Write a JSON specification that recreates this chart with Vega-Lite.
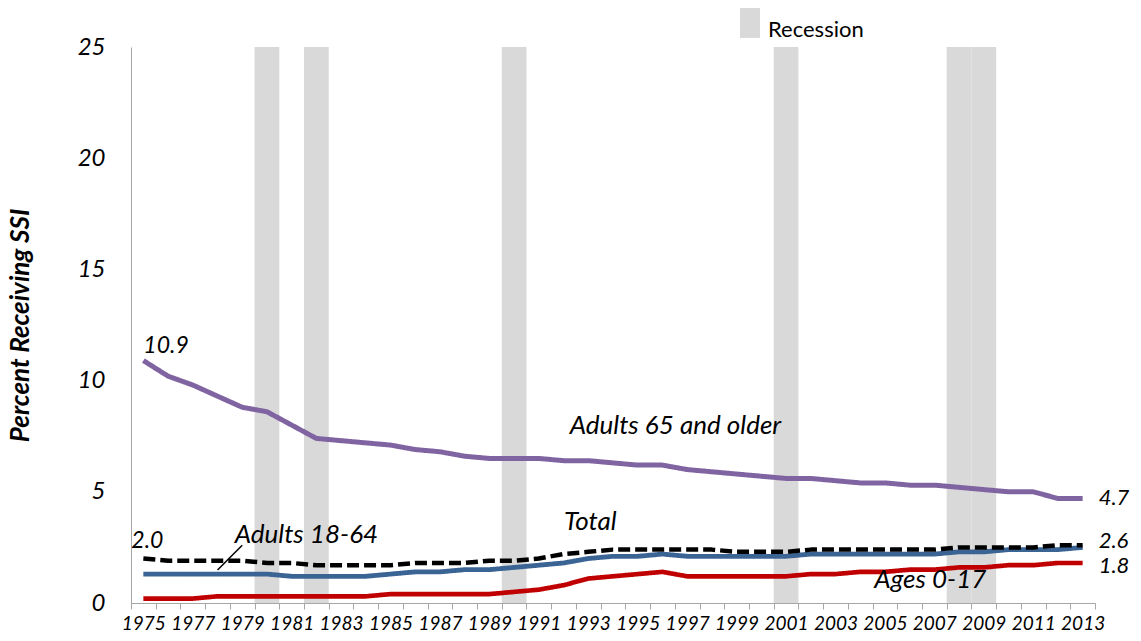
{
  "$schema": "https://vega.github.io/schema/vega-lite/v6.json",
  "width": 964,
  "height": 556,
  "autosize": {"type": "none"},
  "padding": {"left": 131, "top": 47, "right": 46, "bottom": 38},
  "background": "white",
  "config": {
    "view": {"stroke": null},
    "font": "Lato",
    "axis": {"labelFont": "Lato", "titleFont": "Lato", "labelFontStyle": "italic", "labelColor": "#000", "domainColor": "#a6a6a6", "tickColor": "#a6a6a6"}
  },
  "resolve": {"scale": {"color": "independent"}},
  "datasets": {
    "series": [
      {"year": 1975, "series": "Adults 65 and older", "value": 10.9},
      {"year": 1976, "series": "Adults 65 and older", "value": 10.2},
      {"year": 1977, "series": "Adults 65 and older", "value": 9.8},
      {"year": 1978, "series": "Adults 65 and older", "value": 9.3},
      {"year": 1979, "series": "Adults 65 and older", "value": 8.8},
      {"year": 1980, "series": "Adults 65 and older", "value": 8.6},
      {"year": 1981, "series": "Adults 65 and older", "value": 8.0},
      {"year": 1982, "series": "Adults 65 and older", "value": 7.4},
      {"year": 1983, "series": "Adults 65 and older", "value": 7.3},
      {"year": 1984, "series": "Adults 65 and older", "value": 7.2},
      {"year": 1985, "series": "Adults 65 and older", "value": 7.1},
      {"year": 1986, "series": "Adults 65 and older", "value": 6.9},
      {"year": 1987, "series": "Adults 65 and older", "value": 6.8},
      {"year": 1988, "series": "Adults 65 and older", "value": 6.6},
      {"year": 1989, "series": "Adults 65 and older", "value": 6.5},
      {"year": 1990, "series": "Adults 65 and older", "value": 6.5},
      {"year": 1991, "series": "Adults 65 and older", "value": 6.5},
      {"year": 1992, "series": "Adults 65 and older", "value": 6.4},
      {"year": 1993, "series": "Adults 65 and older", "value": 6.4},
      {"year": 1994, "series": "Adults 65 and older", "value": 6.3},
      {"year": 1995, "series": "Adults 65 and older", "value": 6.2},
      {"year": 1996, "series": "Adults 65 and older", "value": 6.2},
      {"year": 1997, "series": "Adults 65 and older", "value": 6.0},
      {"year": 1998, "series": "Adults 65 and older", "value": 5.9},
      {"year": 1999, "series": "Adults 65 and older", "value": 5.8},
      {"year": 2000, "series": "Adults 65 and older", "value": 5.7},
      {"year": 2001, "series": "Adults 65 and older", "value": 5.6},
      {"year": 2002, "series": "Adults 65 and older", "value": 5.6},
      {"year": 2003, "series": "Adults 65 and older", "value": 5.5},
      {"year": 2004, "series": "Adults 65 and older", "value": 5.4},
      {"year": 2005, "series": "Adults 65 and older", "value": 5.4},
      {"year": 2006, "series": "Adults 65 and older", "value": 5.3},
      {"year": 2007, "series": "Adults 65 and older", "value": 5.3},
      {"year": 2008, "series": "Adults 65 and older", "value": 5.2},
      {"year": 2009, "series": "Adults 65 and older", "value": 5.1},
      {"year": 2010, "series": "Adults 65 and older", "value": 5.0},
      {"year": 2011, "series": "Adults 65 and older", "value": 5.0},
      {"year": 2012, "series": "Adults 65 and older", "value": 4.7},
      {"year": 2013, "series": "Adults 65 and older", "value": 4.7},

      {"year": 1975, "series": "Adults 18-64", "value": 1.3},
      {"year": 1976, "series": "Adults 18-64", "value": 1.3},
      {"year": 1977, "series": "Adults 18-64", "value": 1.3},
      {"year": 1978, "series": "Adults 18-64", "value": 1.3},
      {"year": 1979, "series": "Adults 18-64", "value": 1.3},
      {"year": 1980, "series": "Adults 18-64", "value": 1.3},
      {"year": 1981, "series": "Adults 18-64", "value": 1.2},
      {"year": 1982, "series": "Adults 18-64", "value": 1.2},
      {"year": 1983, "series": "Adults 18-64", "value": 1.2},
      {"year": 1984, "series": "Adults 18-64", "value": 1.2},
      {"year": 1985, "series": "Adults 18-64", "value": 1.3},
      {"year": 1986, "series": "Adults 18-64", "value": 1.4},
      {"year": 1987, "series": "Adults 18-64", "value": 1.4},
      {"year": 1988, "series": "Adults 18-64", "value": 1.5},
      {"year": 1989, "series": "Adults 18-64", "value": 1.5},
      {"year": 1990, "series": "Adults 18-64", "value": 1.6},
      {"year": 1991, "series": "Adults 18-64", "value": 1.7},
      {"year": 1992, "series": "Adults 18-64", "value": 1.8},
      {"year": 1993, "series": "Adults 18-64", "value": 2.0},
      {"year": 1994, "series": "Adults 18-64", "value": 2.1},
      {"year": 1995, "series": "Adults 18-64", "value": 2.1},
      {"year": 1996, "series": "Adults 18-64", "value": 2.2},
      {"year": 1997, "series": "Adults 18-64", "value": 2.1},
      {"year": 1998, "series": "Adults 18-64", "value": 2.1},
      {"year": 1999, "series": "Adults 18-64", "value": 2.1},
      {"year": 2000, "series": "Adults 18-64", "value": 2.1},
      {"year": 2001, "series": "Adults 18-64", "value": 2.1},
      {"year": 2002, "series": "Adults 18-64", "value": 2.2},
      {"year": 2003, "series": "Adults 18-64", "value": 2.2},
      {"year": 2004, "series": "Adults 18-64", "value": 2.2},
      {"year": 2005, "series": "Adults 18-64", "value": 2.2},
      {"year": 2006, "series": "Adults 18-64", "value": 2.2},
      {"year": 2007, "series": "Adults 18-64", "value": 2.2},
      {"year": 2008, "series": "Adults 18-64", "value": 2.3},
      {"year": 2009, "series": "Adults 18-64", "value": 2.3},
      {"year": 2010, "series": "Adults 18-64", "value": 2.4},
      {"year": 2011, "series": "Adults 18-64", "value": 2.4},
      {"year": 2012, "series": "Adults 18-64", "value": 2.4},
      {"year": 2013, "series": "Adults 18-64", "value": 2.5},

      {"year": 1975, "series": "Ages 0-17", "value": 0.2},
      {"year": 1976, "series": "Ages 0-17", "value": 0.2},
      {"year": 1977, "series": "Ages 0-17", "value": 0.2},
      {"year": 1978, "series": "Ages 0-17", "value": 0.3},
      {"year": 1979, "series": "Ages 0-17", "value": 0.3},
      {"year": 1980, "series": "Ages 0-17", "value": 0.3},
      {"year": 1981, "series": "Ages 0-17", "value": 0.3},
      {"year": 1982, "series": "Ages 0-17", "value": 0.3},
      {"year": 1983, "series": "Ages 0-17", "value": 0.3},
      {"year": 1984, "series": "Ages 0-17", "value": 0.3},
      {"year": 1985, "series": "Ages 0-17", "value": 0.4},
      {"year": 1986, "series": "Ages 0-17", "value": 0.4},
      {"year": 1987, "series": "Ages 0-17", "value": 0.4},
      {"year": 1988, "series": "Ages 0-17", "value": 0.4},
      {"year": 1989, "series": "Ages 0-17", "value": 0.4},
      {"year": 1990, "series": "Ages 0-17", "value": 0.5},
      {"year": 1991, "series": "Ages 0-17", "value": 0.6},
      {"year": 1992, "series": "Ages 0-17", "value": 0.8},
      {"year": 1993, "series": "Ages 0-17", "value": 1.1},
      {"year": 1994, "series": "Ages 0-17", "value": 1.2},
      {"year": 1995, "series": "Ages 0-17", "value": 1.3},
      {"year": 1996, "series": "Ages 0-17", "value": 1.4},
      {"year": 1997, "series": "Ages 0-17", "value": 1.2},
      {"year": 1998, "series": "Ages 0-17", "value": 1.2},
      {"year": 1999, "series": "Ages 0-17", "value": 1.2},
      {"year": 2000, "series": "Ages 0-17", "value": 1.2},
      {"year": 2001, "series": "Ages 0-17", "value": 1.2},
      {"year": 2002, "series": "Ages 0-17", "value": 1.3},
      {"year": 2003, "series": "Ages 0-17", "value": 1.3},
      {"year": 2004, "series": "Ages 0-17", "value": 1.4},
      {"year": 2005, "series": "Ages 0-17", "value": 1.4},
      {"year": 2006, "series": "Ages 0-17", "value": 1.5},
      {"year": 2007, "series": "Ages 0-17", "value": 1.5},
      {"year": 2008, "series": "Ages 0-17", "value": 1.6},
      {"year": 2009, "series": "Ages 0-17", "value": 1.6},
      {"year": 2010, "series": "Ages 0-17", "value": 1.7},
      {"year": 2011, "series": "Ages 0-17", "value": 1.7},
      {"year": 2012, "series": "Ages 0-17", "value": 1.8},
      {"year": 2013, "series": "Ages 0-17", "value": 1.8},

      {"year": 1975, "series": "Total", "value": 2.0},
      {"year": 1976, "series": "Total", "value": 1.9},
      {"year": 1977, "series": "Total", "value": 1.9},
      {"year": 1978, "series": "Total", "value": 1.9},
      {"year": 1979, "series": "Total", "value": 1.9},
      {"year": 1980, "series": "Total", "value": 1.8},
      {"year": 1981, "series": "Total", "value": 1.8},
      {"year": 1982, "series": "Total", "value": 1.7},
      {"year": 1983, "series": "Total", "value": 1.7},
      {"year": 1984, "series": "Total", "value": 1.7},
      {"year": 1985, "series": "Total", "value": 1.7},
      {"year": 1986, "series": "Total", "value": 1.8},
      {"year": 1987, "series": "Total", "value": 1.8},
      {"year": 1988, "series": "Total", "value": 1.8},
      {"year": 1989, "series": "Total", "value": 1.9},
      {"year": 1990, "series": "Total", "value": 1.9},
      {"year": 1991, "series": "Total", "value": 2.0},
      {"year": 1992, "series": "Total", "value": 2.2},
      {"year": 1993, "series": "Total", "value": 2.3},
      {"year": 1994, "series": "Total", "value": 2.4},
      {"year": 1995, "series": "Total", "value": 2.4},
      {"year": 1996, "series": "Total", "value": 2.4},
      {"year": 1997, "series": "Total", "value": 2.4},
      {"year": 1998, "series": "Total", "value": 2.4},
      {"year": 1999, "series": "Total", "value": 2.3},
      {"year": 2000, "series": "Total", "value": 2.3},
      {"year": 2001, "series": "Total", "value": 2.3},
      {"year": 2002, "series": "Total", "value": 2.4},
      {"year": 2003, "series": "Total", "value": 2.4},
      {"year": 2004, "series": "Total", "value": 2.4},
      {"year": 2005, "series": "Total", "value": 2.4},
      {"year": 2006, "series": "Total", "value": 2.4},
      {"year": 2007, "series": "Total", "value": 2.4},
      {"year": 2008, "series": "Total", "value": 2.5},
      {"year": 2009, "series": "Total", "value": 2.5},
      {"year": 2010, "series": "Total", "value": 2.5},
      {"year": 2011, "series": "Total", "value": 2.5},
      {"year": 2012, "series": "Total", "value": 2.6},
      {"year": 2013, "series": "Total", "value": 2.6}
    ],
    "recession": [
      {"year": 1980, "label": "Recession"},
      {"year": 1982, "label": "Recession"},
      {"year": 1990, "label": "Recession"},
      {"year": 2001, "label": "Recession"},
      {"year": 2008, "label": "Recession"},
      {"year": 2009, "label": "Recession"}
    ]
  },
  "encoding": {
    "x": {
      "field": "year",
      "type": "ordinal",
      "scale": {"domain": [1975,1976,1977,1978,1979,1980,1981,1982,1983,1984,1985,1986,1987,1988,1989,1990,1991,1992,1993,1994,1995,1996,1997,1998,1999,2000,2001,2002,2003,2004,2005,2006,2007,2008,2009,2010,2011,2012,2013], "paddingInner": 0, "paddingOuter": 0},
      "axis": {"title": null, "labelAngle": 0, "tickBand": "extent", "tickSize": 6, "labelFontSize": 19, "labelPadding": 5, "labelOverlap": false, "labelExpr": "(datum.value - 1975) % 2 == 0 ? datum.label : ''"}
    }
  },
  "layer": [
    {
      "data": {"name": "recession"},
      "mark": {"type": "bar", "opacity": 1},
      "encoding": {
        "y": {"datum": 25, "type": "quantitative", "scale": {"domain": [0, 25], "nice": false}},
        "y2": {"datum": 0},
        "color": {
          "field": "label", "type": "nominal",
          "scale": {"domain": ["Recession"], "range": ["#d9d9d9"]},
          "legend": {"orient": "none", "legendX": 604, "legendY": -32, "title": null, "padding": 0, "symbolType": "M-0.667,-1.47H0.667V0.53H-0.667Z", "symbolSize": 900, "symbolStrokeWidth": 0, "symbolOpacity": 1, "labelFont": "Lato", "labelFontSize": 22, "labelColor": "#000", "labelOffset": 3}
        }
      }
    },
    {
      "data": {"name": "series"},
      "mark": {"type": "line", "strokeCap": "butt", "strokeJoin": "round"},
      "encoding": {
        "y": {
          "field": "value", "type": "quantitative",
          "scale": {"domain": [0, 25], "nice": false},
          "axis": {"title": "Percent Receiving SSI", "titleFontSize": 26, "titleFontWeight": "bold", "titleFontStyle": "italic", "titlePadding": 44, "values": [0,5,10,15,20,25], "grid": false, "ticks": false, "labelFontSize": 24, "labelPadding": 26}
        },
        "color": {"field": "series", "type": "nominal", "scale": {"domain": ["Adults 65 and older", "Adults 18-64", "Ages 0-17", "Total"], "range": ["#8064a2", "#3a6494", "#c00000", "#000000"]}, "legend": null},
        "strokeDash": {"field": "series", "type": "nominal", "scale": {"domain": ["Adults 65 and older", "Adults 18-64", "Ages 0-17", "Total"], "range": [[1,0],[1,0],[1,0],[12,5]]}, "legend": null},
        "strokeWidth": {"field": "series", "type": "nominal", "scale": {"domain": ["Adults 65 and older", "Adults 18-64", "Ages 0-17", "Total"], "range": [5, 4.5, 4.5, 4]}, "legend": null}
      }
    },
    {
      "data": {"values": [{"year": 1978, "value": 1.48}, {"year": 1979, "value": 2.6}]},
      "mark": {"type": "line", "color": "#000", "strokeWidth": 1.5},
      "encoding": {"y": {"field": "value", "type": "quantitative"}}
    },
    {
      "data": {"values": [{"year": 1975, "value": 10.9, "label": "10.9"}]},
      "mark": {"type": "text", "align": "left", "baseline": "alphabetic", "dy": -8, "fontSize": 23, "fontStyle": "italic"},
      "encoding": {"y": {"field": "value", "type": "quantitative"}, "text": {"field": "label"}}
    },
    {
      "data": {"values": [{"year": 1975, "value": 2.0, "label": "2.0"}]},
      "mark": {"type": "text", "align": "center", "baseline": "alphabetic", "dx": 4, "dy": -11, "fontSize": 23, "fontStyle": "italic"},
      "encoding": {"y": {"field": "value", "type": "quantitative"}, "text": {"field": "label"}}
    },
    {
      "data": {"values": [{"year": 2013, "value": 4.7, "label": "4.7"}, {"year": 2013, "value": 2.8, "label": "2.6"}, {"year": 2013, "value": 1.68, "label": "1.8"}]},
      "mark": {"type": "text", "align": "left", "baseline": "middle", "dx": 16, "fontSize": 22, "fontStyle": "italic"},
      "encoding": {"y": {"field": "value", "type": "quantitative"}, "text": {"field": "label"}}
    },
    {
      "data": {"values": [{"year": 1996, "value": 7.95, "label": "Adults 65 and older"}]},
      "mark": {"type": "text", "align": "center", "baseline": "middle", "dx": 13, "fontSize": 26, "fontStyle": "italic"},
      "encoding": {"y": {"field": "value", "type": "quantitative"}, "text": {"field": "label"}}
    },
    {
      "data": {"values": [{"year": 1993, "value": 3.64, "label": "Total"}]},
      "mark": {"type": "text", "align": "center", "baseline": "middle", "dx": 2, "fontSize": 26, "fontStyle": "italic"},
      "encoding": {"y": {"field": "value", "type": "quantitative"}, "text": {"field": "label"}}
    },
    {
      "data": {"values": [{"year": 1982, "value": 3.06, "label": "Adults 18-64"}]},
      "mark": {"type": "text", "align": "center", "baseline": "middle", "dx": -10, "fontSize": 26, "fontStyle": "italic"},
      "encoding": {"y": {"field": "value", "type": "quantitative"}, "text": {"field": "label"}}
    },
    {
      "data": {"values": [{"year": 2007, "value": 1.03, "label": "Ages 0-17"}]},
      "mark": {"type": "text", "align": "center", "baseline": "middle", "dx": -4, "fontSize": 26, "fontStyle": "italic"},
      "encoding": {"y": {"field": "value", "type": "quantitative"}, "text": {"field": "label"}}
    }
  ]
}
